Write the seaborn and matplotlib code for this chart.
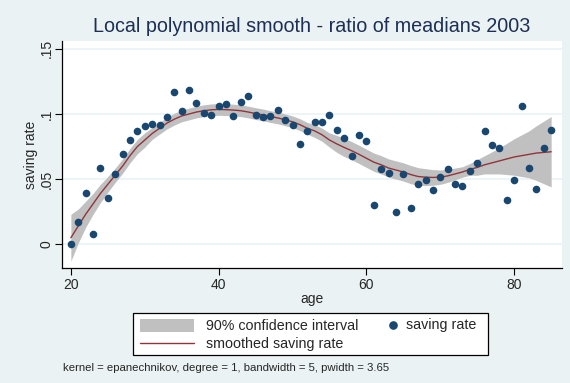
import numpy as np
import pandas as pd
import matplotlib
matplotlib.use("Agg")
import matplotlib.pyplot as plt
import seaborn as sns
from matplotlib.patches import Rectangle
from matplotlib.lines import Line2D

# ---- data ----
ages = list(range(20, 86))
saving_rate = [0.0, 0.0169, 0.0395, 0.0082, 0.0585, 0.0354, 0.054, 0.0695, 0.080, 0.0872,
               0.0907, 0.092, 0.0917, 0.0977, 0.1166, 0.102, 0.1187, 0.1085, 0.1008, 0.0995,
               0.1064, 0.1074, 0.0987, 0.1095, 0.1136, 0.0995, 0.0974, 0.0987, 0.1028, 0.0956,
               0.0918, 0.0772, 0.0867, 0.0938, 0.0938, 0.099, 0.0874, 0.0815, 0.0677, 0.0841,
               0.0792, 0.0302, 0.0574, 0.0546, 0.0251, 0.0543, 0.0282, 0.0459, 0.0495, 0.042,
               0.052, 0.0574, 0.0459, 0.0446, 0.0561, 0.062, 0.0867, 0.0761, 0.0736, 0.0336,
               0.0497, 0.1062, 0.0587, 0.0428, 0.0736, 0.0879]
smoothed = [0.005, 0.014, 0.023, 0.031, 0.039, 0.046, 0.053, 0.060, 0.068, 0.075,
            0.080, 0.085, 0.089, 0.093, 0.096, 0.0985, 0.100, 0.1015, 0.1025, 0.1032,
            0.1035, 0.1033, 0.103, 0.1025, 0.1015, 0.1003, 0.0993, 0.098, 0.097, 0.0955,
            0.094, 0.0918, 0.089, 0.087, 0.084, 0.080, 0.077, 0.0743, 0.0718, 0.069,
            0.066, 0.063, 0.061, 0.0585, 0.057, 0.0555, 0.0535, 0.052, 0.0515, 0.0513,
            0.0515, 0.0525, 0.054, 0.0555, 0.0575, 0.059, 0.061, 0.0625, 0.064, 0.0655,
            0.067, 0.068, 0.069, 0.070, 0.0705, 0.071]
ci_halfwidth = [0.018, 0.013, 0.010, 0.008, 0.007, 0.006, 0.0055, 0.0055, 0.0055, 0.0055,
                0.0055, 0.0045, 0.0045, 0.0045, 0.0045, 0.0045, 0.0045, 0.0045, 0.0045, 0.0045,
                0.0045, 0.0045, 0.0045, 0.0045, 0.0045, 0.0045, 0.0045, 0.0045, 0.0045, 0.0045,
                0.0045, 0.0045, 0.0045, 0.005, 0.005, 0.0055, 0.0065, 0.007, 0.007, 0.007,
                0.007, 0.007, 0.007, 0.007, 0.007, 0.007, 0.007, 0.0068, 0.0065, 0.006,
                0.0055, 0.005, 0.0045, 0.004, 0.0045, 0.006, 0.007, 0.0085, 0.010, 0.012,
                0.014, 0.016, 0.018, 0.021, 0.024, 0.027]
y_ticks = [0, 0.05, 0.10, 0.15]
y_ticklabels = ["0", ".05", ".1", ".15"]
x_ticks = [20, 40, 60, 80]

df = pd.DataFrame({"age": ages, "saving": saving_rate,
                   "smooth": smoothed, "half": ci_halfwidth})
df["lo"] = df["smooth"] - df["half"]
df["hi"] = df["smooth"] + df["half"]

BG = "#EAF2F3"
NAVY = "#1A476F"
MAROON = "#90353B"
BAND = "#C0C0C0"
W, H = 570, 383

sns.set_style("white")
plt.rcParams["font.family"] = ["Liberation Sans", "DejaVu Sans"]

fig = plt.figure(figsize=(5.7, 3.83), dpi=100, facecolor=BG)
ax = fig.add_axes([62 / W, 1 - 268 / H, (561.5 - 62) / W, (268 - 41) / H])
ax.set_facecolor("white")

for yt in y_ticks:
    ax.axhline(yt, color=BG, lw=1.2, zorder=0)

ax.fill_between(df["age"], df["lo"], df["hi"], color=BAND, lw=0, zorder=1)
sns.lineplot(data=df, x="age", y="smooth", ax=ax, color=MAROON, lw=1.0, zorder=2)
sns.scatterplot(data=df, x="age", y="saving", ax=ax, color=NAVY, s=30,
                edgecolor=NAVY, linewidth=0, zorder=3)

ax.set_xlim(18.8, 86.4)
ax.set_ylim(-0.0182, 0.156)
ax.set_xticks(x_ticks)
ax.set_xticklabels([str(t) for t in x_ticks], fontsize=10)
ax.set_yticks(y_ticks)
ax.set_yticklabels(y_ticklabels, rotation=90, va="center", fontsize=10)
ax.tick_params(axis="x", direction="out", length=5, width=0.8, color="black",
               bottom=True, pad=2)
ax.tick_params(axis="y", direction="out", length=5, width=0.8, color="black",
               left=True, pad=1)

for side in ["top", "right"]:
    ax.spines[side].set_visible(False)
for side in ["left", "bottom"]:
    ax.spines[side].set_color("black")
    ax.spines[side].set_linewidth(0.9)

ax.set_xlabel("age", fontsize=10, labelpad=0)
ax.set_ylabel("saving rate", fontsize=10, labelpad=1)

fig.text(312 / W, 1 - 27 / H, "Local polynomial smooth - ratio of meadians 2003",
         ha="center", va="center", fontsize=14.2, color="#1E2F55")

# ---- legend drawn in figure pixel coordinates ----
def fx(px):
    return px / W

def fy(py):
    return 1 - py / H

fig.add_artist(Rectangle((fx(133), fy(355)), fx(488) - fx(133), fy(312.5) - fy(355),
                         transform=fig.transFigure, facecolor="white",
                         edgecolor="black", lw=0.9))
fig.add_artist(Rectangle((fx(139.5), fy(332)), fx(194) - fx(139.5), fy(318.5) - fy(332),
                         transform=fig.transFigure, facecolor=BAND, edgecolor="none"))
fig.add_artist(Line2D([fx(139.5), fx(194)], [fy(343), fy(343)],
                      transform=fig.transFigure, color=MAROON, lw=1.0))
fig.add_artist(Line2D([fx(392.5)], [fy(325)], transform=fig.transFigure,
                      color=NAVY, marker="o", markersize=5.2, ls="none"))
fig.text(fx(206), fy(325.5), "90% confidence interval", ha="left", va="center", fontsize=10.3)
fig.text(fx(206), fy(344), "smoothed saving rate", ha="left", va="center", fontsize=10.3)
fig.text(fx(406), fy(325.5), "saving rate", ha="left", va="center", fontsize=10.3)

fig.text(fx(63), fy(368),
         "kernel = epanechnikov, degree = 1, bandwidth = 5, pwidth = 3.65",
         ha="left", va="center", fontsize=8.2)

fig.savefig("out.png", dpi=100, facecolor=BG)
